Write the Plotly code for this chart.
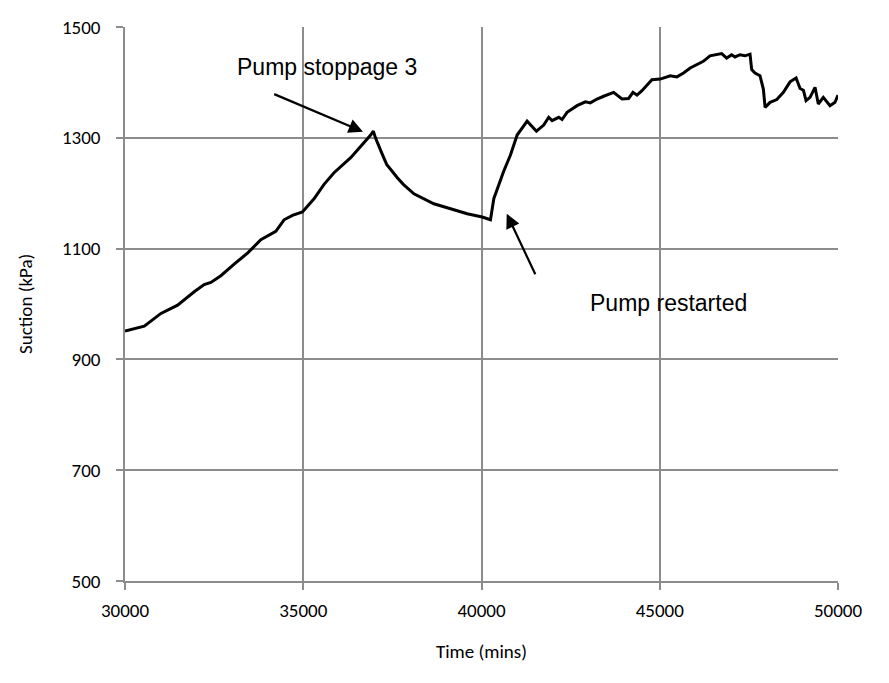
import plotly.graph_objects as go

# Data
time_mins = [30000, 30541, 31008, 31476, 31941, 32221, 32409, 32689, 33062, 33437,
             33810, 34230, 34462, 34697, 34977, 35302, 35583, 35863, 36331, 36703,
             36891, 36966, 37031, 37218, 37340, 37639, 37807, 38104, 38368, 38664,
             39132, 39599, 40019,
             40252, 40345, 40625, 40812, 41000, 41280, 41541, 41745, 41885, 41980,
             42166, 42260, 42400, 42680, 42913, 43053, 43240, 43426, 43706, 43941,
             44126, 44249, 44361, 44501, 44641, 44781, 45014, 45294, 45481, 45667,
             45854, 46036, 46222, 46409, 46550, 46737, 46877, 47017, 47111, 47251,
             47391, 47532, 47579, 47672, 47812, 47906, 47955, 48095, 48283, 48468,
             48655, 48824, 48936, 49030, 49104, 49216, 49356, 49448, 49588, 49776,
             49916, 50000]
suction_kpa = [951, 960, 983, 998, 1022, 1035, 1039, 1051, 1072, 1092,
               1116, 1131, 1152, 1160, 1166, 1190, 1216, 1237, 1264, 1290,
               1305, 1312, 1299, 1270, 1252, 1228, 1216, 1199, 1190, 1181,
               1172, 1163, 1157,
               1152, 1190, 1240, 1269, 1305, 1330, 1312, 1323, 1337, 1331,
               1337, 1333, 1346, 1358, 1365, 1363, 1370, 1375, 1382, 1370,
               1371, 1382, 1377, 1385, 1396, 1405, 1406, 1412, 1410, 1417,
               1426, 1432, 1438, 1448, 1450, 1452, 1444, 1450, 1446, 1450,
               1448, 1451, 1423, 1417, 1412, 1388, 1355, 1364, 1369, 1382,
               1401, 1408, 1389, 1386, 1367, 1373, 1391, 1361, 1373, 1358,
               1364, 1377]

x_ticks = [30000, 35000, 40000, 45000, 50000]
y_ticks = [500, 700, 900, 1100, 1300, 1500]

x_title = "Time (mins)"
y_title = "Suction (kPa)"

# annotations: (text, text_x, text_y, arrow_tail_x, arrow_tail_y, arrow_head_x, arrow_head_y)
ann_stop = ("Pump stoppage 3", 33086, 1428, 34143, 1380, 36676, 1311)
ann_restart = ("Pump restarted", 42987, 1001, 41529, 1051, 40707, 1163)

GRID = "#8c8c8c"
TICK_FONT = dict(family="Carlito, Calibri, Lato, sans-serif", size=19, color="#000000")
TITLE_FONT = dict(family="Carlito, Calibri, Lato, sans-serif", size=19, color="#000000")
ANN_FONT = dict(family="Liberation Sans, Arial, sans-serif", size=23, color="#000000")

fig = go.Figure()
fig.add_trace(go.Scatter(x=time_mins, y=suction_kpa, mode="lines",
                         line=dict(color="#000000", width=3), showlegend=False))

annotations = []
for text, tx, ty, ax, ay, hx, hy in [ann_stop, ann_restart]:
    annotations.append(dict(x=hx, y=hy, ax=ax, ay=ay, xref="x", yref="y",
                            axref="x", ayref="y", text="", showarrow=True,
                            arrowhead=2, arrowsize=1.3, arrowwidth=2.2,
                            arrowcolor="#000000"))
    annotations.append(dict(x=tx, y=ty, xref="x", yref="y", text=text,
                            showarrow=False, xanchor="left", yanchor="middle",
                            font=ANN_FONT))

annotations.append(dict(x=0.5, y=-0.127, xref="paper", yref="paper", text=x_title,
                        showarrow=False, xanchor="center", yanchor="middle",
                        font=TITLE_FONT))
annotations.append(dict(x=-0.1403, y=0.5, xref="paper", yref="paper", text=y_title,
                        showarrow=False, xanchor="center", yanchor="middle",
                        textangle=-90, font=TITLE_FONT))

# page body has an 8px default margin, so the figure is sized to fit the window
fig.update_layout(
    width=881, height=675,
    margin=dict(l=117, r=51, t=8, b=101.5),
    paper_bgcolor="#ffffff", plot_bgcolor="#ffffff",
    annotations=annotations,
    xaxis=dict(range=[30000, 50000], tickvals=x_ticks,
               ticktext=[str(v) for v in x_ticks],
               showgrid=True, gridcolor=GRID, gridwidth=1.5,
               showline=True, linecolor=GRID, linewidth=1.5,
               ticks="outside", ticklen=7, tickcolor=GRID, tickwidth=1.5,
               tickfont=TICK_FONT, zeroline=False, ticklabelstandoff=4,
               ticklabeloverflow="allow"),
    yaxis=dict(range=[500, 1500], tickvals=y_ticks,
               ticktext=[str(v) for v in y_ticks],
               showgrid=True, gridcolor=GRID, gridwidth=1.5,
               showline=True, linecolor=GRID, linewidth=1.5,
               ticks="outside", ticklen=7, tickcolor=GRID, tickwidth=1.5,
               tickfont=TICK_FONT, zeroline=False, ticklabelstandoff=12,
               ticklabeloverflow="allow"),
)

fig.write_html("out.html")
